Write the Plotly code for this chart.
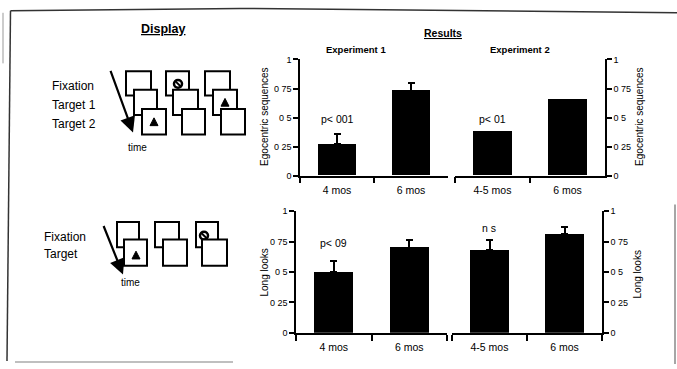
import plotly.graph_objects as go

W, H = 677, 369

# ---------------- data ----------------
exp1_categories = ["4 mos", "6 mos"]
exp2_categories = ["4-5 mos", "6 mos"]

ego_exp1 = [0.27, 0.73]
ego_exp1_err = [0.09, 0.07]
ego_exp2 = [0.38, 0.66]
ego_exp2_err = [0.0, 0.0]

long_exp1 = [0.50, 0.70]
long_exp1_err = [0.09, 0.06]
long_exp2 = [0.68, 0.81]
long_exp2_err = [0.08, 0.06]

y_tickvals = [0, 0.25, 0.5, 0.75, 1]
y_ticktext = ["0", "0 25", "0 5", "0 75", "1"]

top_notes = ["p< 001", "p< 01"]
bottom_notes = ["p< 09", "n s"]

FONT = "Liberation Sans, Arial, sans-serif"


def px(x):
    return x / W


def py(y):
    return 1 - y / H


fig = go.Figure()


def add_bars(xa, ya, cats, vals, errs, show_err):
    fig.add_trace(go.Bar(
        x=cats, y=vals, xaxis=xa, yaxis=ya, width=0.52,
        marker=dict(color="black", line=dict(width=0)),
        error_y=dict(type="data", symmetric=False, array=errs,
                     arrayminus=[0] * len(errs), color="black",
                     thickness=2, width=3.5, visible=show_err),
        showlegend=False, hoverinfo="skip"))


add_bars("x", "y", exp1_categories, ego_exp1, ego_exp1_err, True)
add_bars("x2", "y2", exp2_categories, ego_exp2, ego_exp2_err, False)
add_bars("x3", "y3", exp1_categories, long_exp1, long_exp1_err, True)
add_bars("x4", "y4", exp2_categories, long_exp2, long_exp2_err, True)

xcommon = dict(type="category", showline=True, linecolor="black", linewidth=1.5,
               ticks="outside", tickson="boundaries", ticklen=6, tickwidth=1.5,
               tickcolor="black", showgrid=False, zeroline=False,
               ticklabelstandoff=4,
               tickfont=dict(family=FONT, size=10.5, color="black"), fixedrange=True)
ycommon = dict(range=[0, 1], tickvals=y_tickvals, ticktext=y_ticktext,
               showline=True, linecolor="black", linewidth=1.5, ticks="outside",
               ticklen=5, tickwidth=1.5, tickcolor="black", showgrid=False,
               zeroline=False, tickfont=dict(family=FONT, size=9, color="black"),
               ticklabelstandoff=0, fixedrange=True)

top_dom = [py(175.5), py(56)]
bot_dom = [py(337), py(212)]

fig.update_layout(
    width=W, height=H, margin=dict(l=0, r=0, t=0, b=0),
    paper_bgcolor="white", plot_bgcolor="rgba(0,0,0,0)", bargap=0,
    xaxis=dict(xcommon, domain=[px(300), px(448)], anchor="y"),
    yaxis=dict(ycommon, domain=top_dom, anchor="x", side="left"),
    xaxis2=dict(xcommon, domain=[px(455), px(605)], anchor="y2"),
    yaxis2=dict(ycommon, domain=top_dom, anchor="x2", side="right"),
    xaxis3=dict(xcommon, domain=[px(296), px(447)], anchor="y3"),
    yaxis3=dict(ycommon, domain=bot_dom, anchor="x3", side="left"),
    xaxis4=dict(xcommon, domain=[px(452), px(602)], anchor="y4"),
    yaxis4=dict(ycommon, domain=bot_dom, anchor="x4", side="right"),
)

ann = []


def text(x, y, s, size=9, bold=False, angle=0, xanchor="center"):
    ann.append(dict(x=px(x), y=py(y), xref="paper", yref="paper", text=s,
                    showarrow=False, textangle=angle, xanchor=xanchor,
                    yanchor="middle",
                    font=dict(family=FONT, size=size, color="black")))


# headings
text(163, 25, "<b><u>Display</u></b>", size=12.5)
text(443, 29, "<b><u>Results</u></b>", size=10.5)
text(356, 46, "<b>Experiment 1</b>", size=9.5)
text(520, 46, "<b>Experiment 2</b>", size=9.5)

# y titles
text(265, 115, "Egocentric sequences", size=10, angle=-90)
text(640, 115, "Egocentric sequences", size=10, angle=-90)
text(265, 275, "Long looks", size=10, angle=-90)
text(637, 277, "Long looks", size=10, angle=-90)

# significance notes, placed in data coords
for xa, ya, cat, yv, s in [("x", "y", exp1_categories[0], 0.49, top_notes[0]),
                           ("x2", "y2", exp2_categories[0], 0.49, top_notes[1]),
                           ("x3", "y3", exp1_categories[0], 0.74, bottom_notes[0]),
                           ("x4", "y4", exp2_categories[0], 0.86, bottom_notes[1])]:
    ann.append(dict(x=cat, y=yv, xref=xa, yref=ya, text=s, showarrow=False,
                    font=dict(family=FONT, size=10.5, color="black")))

# display labels
text(50, 83, "Fixation", size=12, xanchor="left")
text(50, 103, "Target 1", size=12, xanchor="left")
text(50, 122, "Target 2", size=12, xanchor="left")
text(137, 146, "time", size=10)
text(42, 238, "Fixation", size=12, xanchor="left")
text(42, 256, "Target", size=12, xanchor="left")
text(130, 285, "time", size=10)

# time arrows
for tip, tail in [((133, 131), (110, 68)), ((123, 277), (103, 227))]:
    ann.append(dict(x=px(tip[0]), y=py(tip[1]), xref="paper", yref="paper",
                    ax=tail[0] - tip[0], ay=tail[1] - tip[1], axref="pixel",
                    ayref="pixel", showarrow=True, arrowhead=2, arrowsize=1.4,
                    arrowwidth=2.2, arrowcolor="black", text=""))

fig.update_layout(annotations=ann)

shapes = []


def rect(x0, y0, x1, y1):
    shapes.append(dict(type="rect", xref="paper", yref="paper",
                       x0=px(x0), x1=px(x1), y0=py(y1), y1=py(y0),
                       line=dict(color="black", width=2), fillcolor="white"))


def tri(cx, cy, s=8):
    shapes.append(dict(type="path", xref="paper", yref="paper",
                       path=f"M {px(cx - s/2)},{py(cy + s/2)} L {px(cx + s/2)},{py(cy + s/2)} "
                            f"L {px(cx)},{py(cy - s/2)} Z",
                       fillcolor="black", line=dict(color="black", width=1)))


def circ(cx, cy, r=4):
    shapes.append(dict(type="circle", xref="paper", yref="paper",
                       x0=px(cx - r), x1=px(cx + r), y0=py(cy + r), y1=py(cy - r),
                       line=dict(color="black", width=2.5), fillcolor="white"))
    shapes.append(dict(type="line", xref="paper", yref="paper",
                       x0=px(cx - r + 1), x1=px(cx + r - 1), y0=py(cy - r + 1),
                       y1=py(cy + r - 1), line=dict(color="black", width=2)))


# top display: three trials
rect(126, 68, 151, 93); rect(134, 87, 157, 113); rect(142, 107, 166, 133)
tri(154, 120)
rect(166, 68, 189, 93); circ(178, 81); rect(173, 87, 198, 113); rect(182, 107, 205, 133)
rect(205, 68, 230, 93); rect(213, 87, 237, 113); tri(225, 100); rect(221, 107, 245, 133)

# bottom display
rect(117, 223, 139, 249); rect(124, 241, 147, 268); tri(136, 257)
rect(155, 223, 179, 249); rect(163, 241, 187, 268)
rect(196, 223, 218, 249); circ(204, 237); rect(202, 241, 227, 268)

# frame lines
shapes.append(dict(type="path", xref="paper", yref="paper",
                   path=f"M {px(10.5)},{py(6)} L {px(240)},{py(3.5)} L {px(677)},{py(8)}",
                   line=dict(color="#333", width=1.5)))
shapes.append(dict(type="line", xref="paper", yref="paper", x0=px(10.5), y0=py(6),
                   x1=px(7), y1=py(366), line=dict(color="#333", width=1.5)))
shapes.append(dict(type="line", xref="paper", yref="paper", x0=px(3), y0=py(8),
                   x1=px(3), y1=py(60), line=dict(color="#999", width=1)))
shapes.append(dict(type="line", xref="paper", yref="paper", x0=px(15), y0=py(367),
                   x1=px(233), y1=py(367), line=dict(color="#aaa", width=1.5)))
shapes.append(dict(type="line", xref="paper", yref="paper", x0=px(675), y0=py(205),
                   x1=px(675), y1=py(369), line=dict(color="#888", width=1.5)))

fig.update_layout(shapes=shapes)

fig.write_html("out.html", config={"displayModeBar": False},
               post_script="document.body.style.margin='0';"
                           "document.body.style.overflow='hidden';")
